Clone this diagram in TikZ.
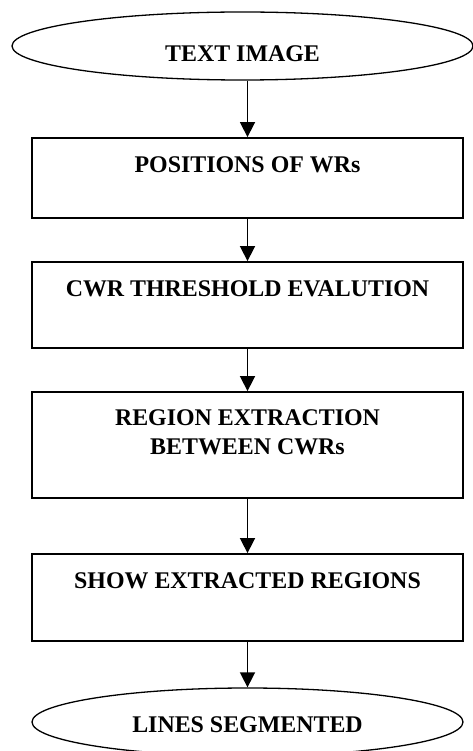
\documentclass[tikz,border=0pt]{standalone}
\usepackage{fontspec}
\setmainfont{Liberation Serif}
\usetikzlibrary{shapes.geometric,arrows.meta}
\begin{document}
\begin{tikzpicture}[x=1pt,y=-1pt,
  box/.style={draw,line width=1.8pt,minimum width=431pt,inner sep=0pt},
  oval/.style={draw,ellipse,line width=1.3pt,inner sep=0pt},
  lbl/.style={font=\fontsize{23.9}{29}\selectfont\bfseries,anchor=base,inner sep=0pt},
  flow/.style={line width=1.6pt,-{Triangle[length=15pt,width=15pt]}}]
\useasboundingbox (0,0) rectangle (473,751);
\node[oval,minimum width=461pt,minimum height=68pt] (start) at (242.5,46) {};
\node[box,minimum height=80pt] (b1) at (247.5,178) {};
\node[box,minimum height=86pt] (b2) at (247.5,305) {};
\node[box,minimum height=106pt] (b3) at (247.5,445) {};
\node[box,minimum height=87pt] (b4) at (247.5,597.5) {};
\node[oval,minimum width=431pt,minimum height=68pt] (stop) at (247.5,722) {};
\node[lbl] (t0) at (242.5,61.7) {TEXT IMAGE};
\node[lbl] (t1) at (247.5,172.3) {POSITIONS OF WRs};
\node[lbl] (t2) at (247.5,296.7) {CWR THRESHOLD EVALUTION};
\node[lbl] (t3a) at (247.5,425) {REGION EXTRACTION};
\node[lbl] (t3b) at (247.5,454) {BETWEEN CWRs};
\node[lbl] (t4) at (247.5,588) {SHOW EXTRACTED REGIONS};
\node[lbl] (t5) at (247.5,732.7) {LINES SEGMENTED};
\draw[flow] (b1.north |- start.south) -- (b1.north);
\draw[flow] (b1.south) -- (b2.north);
\draw[flow] (b2.south) -- (b3.north);
\draw[flow] (b3.south) -- (b4.north);
\draw[flow] (b4.south) -- (stop.north);
\end{tikzpicture}
\end{document}
